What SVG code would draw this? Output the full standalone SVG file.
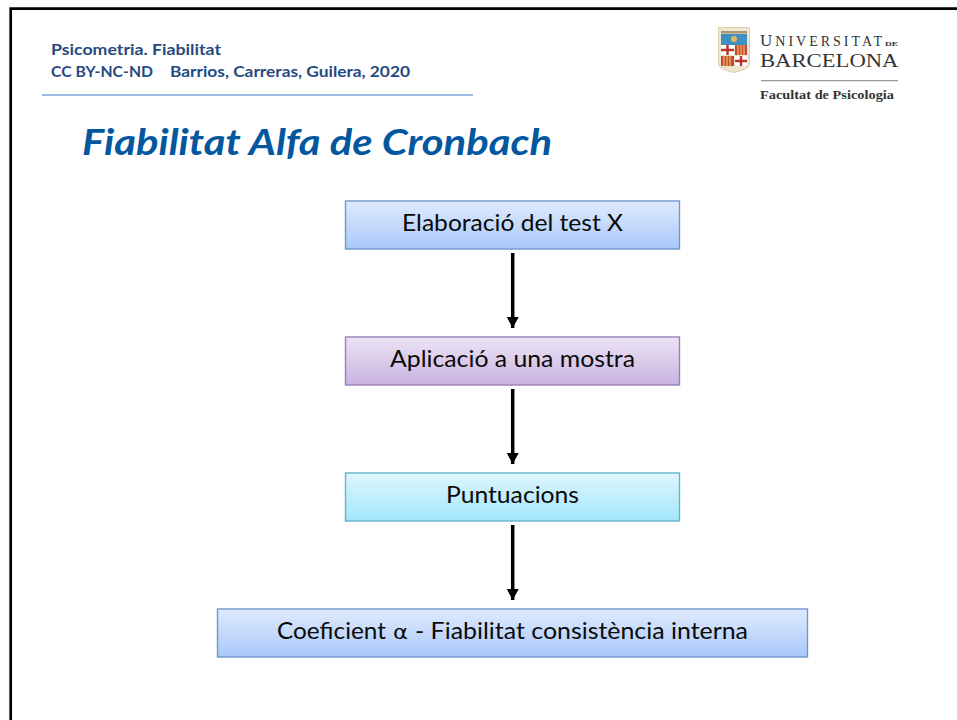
<svg xmlns="http://www.w3.org/2000/svg" width="957" height="720" viewBox="0 0 957 720">
<style>
.lbl{font-family:Lato,Carlito,"Liberation Sans",sans-serif;font-size:23px;fill:#0a0a0a}
.mid{text-anchor:middle}
.hdr{font-family:Lato,Carlito,"Liberation Sans",sans-serif;font-size:15.500px;font-weight:700;fill:#264a7f}
.ub{font-family:"Liberation Serif","DejaVu Serif",serif;fill:#333}
.conn{stroke:#000;stroke-width:3.500;fill:none;marker-end:url(#ah)}
.box{stroke-width:1.400}
</style>
<defs>
<linearGradient id="gb" x1="0" y1="0" x2="0" y2="1"><stop offset="0" stop-color="#e0ebfd"/><stop offset="1" stop-color="#a8c8fa"/></linearGradient>
<linearGradient id="gp" x1="0" y1="0" x2="0" y2="1"><stop offset="0" stop-color="#ece4f5"/><stop offset="1" stop-color="#c9b3e0"/></linearGradient>
<linearGradient id="gc" x1="0" y1="0" x2="0" y2="1"><stop offset="0" stop-color="#def6fd"/><stop offset="1" stop-color="#a3e6fa"/></linearGradient>
<marker id="ah" markerUnits="userSpaceOnUse" markerWidth="12" markerHeight="13" refX="11" refY="6" orient="auto"><path d="M0 0L11 6L0 12Z" fill="#000"/></marker>
</defs>
<rect width="957" height="720" fill="#fff"/>
<g id="frame"><path d="M10.700 721V8.700H958" fill="none" stroke="#000" stroke-width="2.700"/></g>
<g id="header">
<text class="hdr" x="51" y="55" textLength="170" lengthAdjust="spacingAndGlyphs">Psicometria. Fiabilitat</text>
<text class="hdr" x="51" y="77" textLength="102" lengthAdjust="spacingAndGlyphs">CC BY-NC-ND</text>
<text class="hdr" x="170" y="77" textLength="240" lengthAdjust="spacingAndGlyphs">Barrios, Carreras, Guilera, 2020</text>
<line x1="42" y1="95" x2="473" y2="95" stroke="#7ea3d6" stroke-width="1.500"/>
</g>
<g id="title"><text x="82" y="154.500" font-family="Lato,Carlito,'Liberation Sans',sans-serif" font-size="37" font-weight="700" font-style="italic" fill="#03579f" textLength="470" lengthAdjust="spacingAndGlyphs">Fiabilitat Alfa de Cronbach</text></g>
<g id="logo">
<path d="M718.500 27.500H749.500V64Q749.500 69 734 72.500Q718.500 69 718.500 64Z" fill="#efe6cf" stroke="#dccfae"/>
<rect x="721" y="31" width="26" height="2.500" fill="#a89670"/>
<rect x="721" y="34" width="26" height="11" fill="#3f8fc0"/>
<circle cx="734" cy="39" r="3" fill="#e2b85a"/>
<rect x="721" y="45" width="13" height="10" fill="#fff"/>
<path d="M727.500 45V55M721 50H734" stroke="#b8352c" stroke-width="2.500"/>
<rect x="735" y="45" width="12" height="10" fill="#c8493a"/>
<path d="M738 45V55M741 45V55M744 45V55" stroke="#e6c35c" stroke-width="1.200"/>
<rect x="721" y="56" width="13" height="10" fill="#c8493a"/>
<path d="M724 56V66M727 56V66M730 56V66" stroke="#e6c35c" stroke-width="1.200"/>
<rect x="735" y="56" width="12" height="10" fill="#fff"/>
<path d="M741 56V66M735 61H747" stroke="#b8352c" stroke-width="2.500"/>
<text class="ub" x="760" y="46" font-size="14" textLength="122" lengthAdjust="spacing"><tspan font-size="17">U</tspan>NIVERSITAT</text>
<text class="ub" x="885" y="46" font-size="6.500" font-weight="700" textLength="13" lengthAdjust="spacingAndGlyphs">DE</text>
<text class="ub" x="760" y="67" font-size="19" textLength="138.500" lengthAdjust="spacingAndGlyphs">BARCELONA</text>
<line x1="761" y1="80.700" x2="898" y2="80.700" stroke="#999" stroke-width="1.200"/>
<text class="ub" x="760" y="99" font-size="13" font-weight="700" textLength="134" lengthAdjust="spacingAndGlyphs">Facultat de Psicologia</text>
</g>
<g id="connectors">
<line class="conn" x1="512.700" y1="253" x2="512.700" y2="328"/>
<line class="conn" x1="512.700" y1="389" x2="512.700" y2="464"/>
<line class="conn" x1="512.700" y1="525" x2="512.700" y2="600"/>
</g>
<g id="n1"><rect class="box" x="345.500" y="201" width="334" height="48" fill="url(#gb)" stroke="#6f97cd"/><text class="lbl mid" x="512.500" y="231" textLength="221" lengthAdjust="spacingAndGlyphs">Elaboració del test X</text></g>
<g id="n2"><rect class="box" x="345.500" y="337" width="334" height="48" fill="url(#gp)" stroke="#9a7fba"/><text class="lbl mid" x="512.500" y="367" textLength="245" lengthAdjust="spacingAndGlyphs">Aplicació a una mostra</text></g>
<g id="n3"><rect class="box" x="345.500" y="473" width="334" height="48" fill="url(#gc)" stroke="#62b6cf"/><text class="lbl mid" x="512.500" y="503" textLength="133" lengthAdjust="spacingAndGlyphs">Puntuacions</text></g>
<g id="n4"><rect class="box" x="217.500" y="609" width="590" height="48" fill="url(#gb)" stroke="#6f97cd"/><text class="lbl" y="639"><tspan x="277" textLength="109" lengthAdjust="spacingAndGlyphs">Coeficient</tspan><tspan x="393" font-family="'DejaVu Sans',serif" font-size="20" textLength="15" lengthAdjust="spacingAndGlyphs">α</tspan><tspan x="415" textLength="333" lengthAdjust="spacingAndGlyphs">- Fiabilitat consistència interna</tspan></text></g>
</svg>
